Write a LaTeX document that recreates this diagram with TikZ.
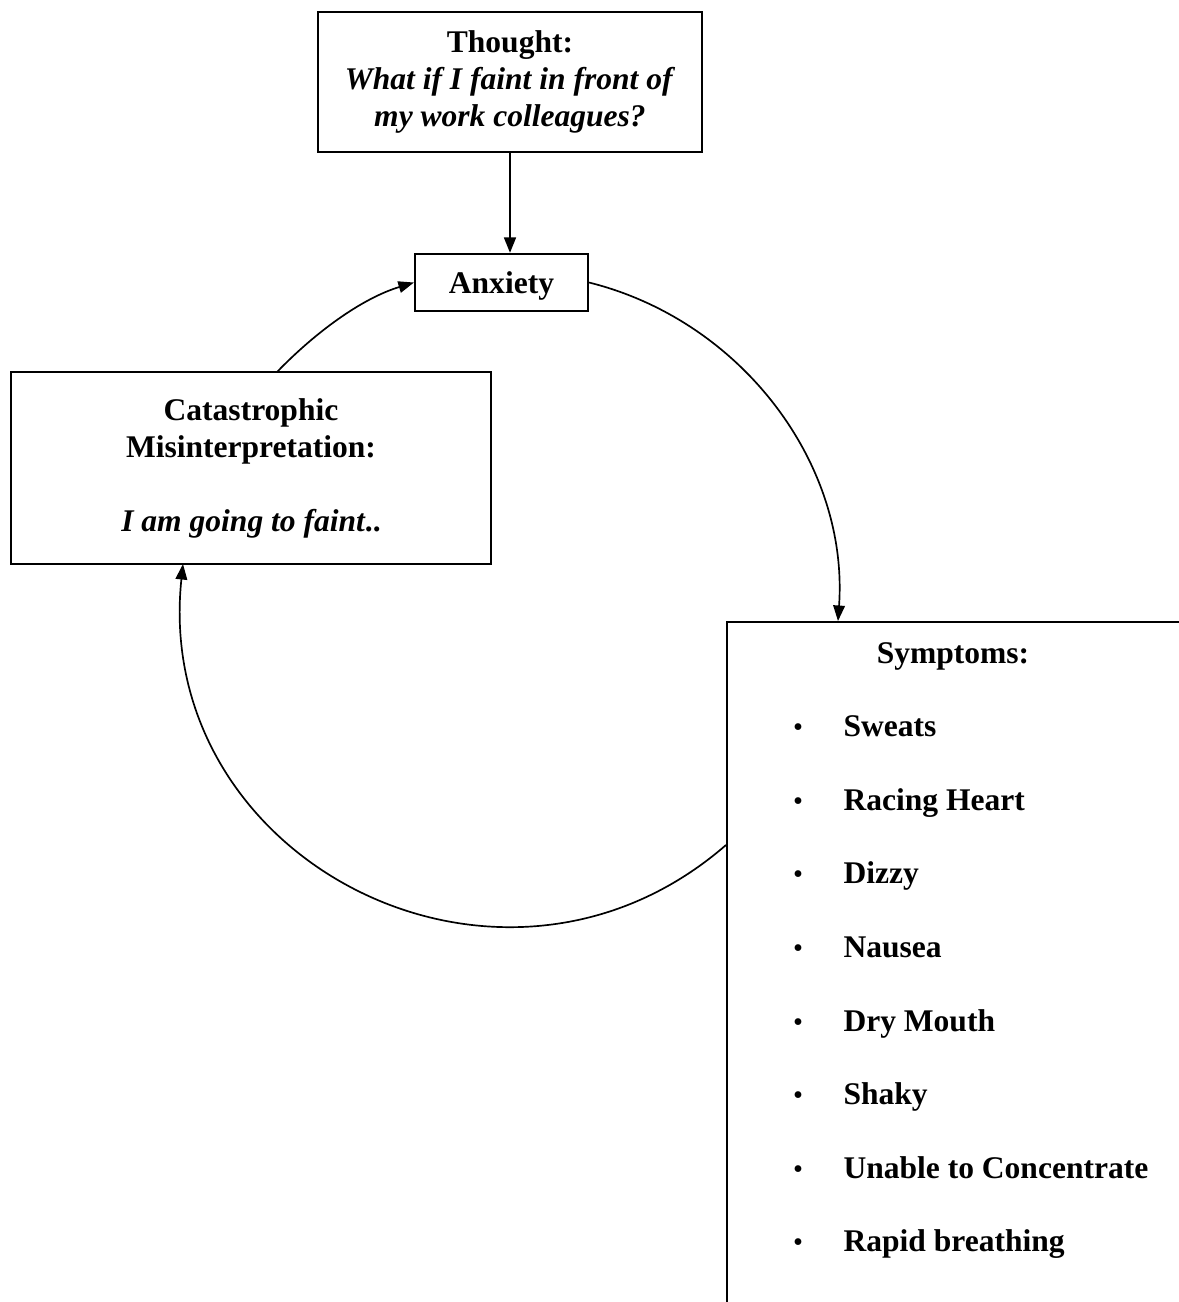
\documentclass[tikz,border=0pt]{standalone}
\usepackage{fontspec}
\setmainfont{Liberation Serif}
\usetikzlibrary{arrows.meta}

\begin{document}
\begin{tikzpicture}[x=0.0136cm, y=0.0136cm,
		box/.style={draw, line width=0.8pt, inner sep=0pt, align=center,
			font=\fontsize{12.2}{14.3}\selectfont\bfseries},
		item/.style={anchor=base west, inner sep=0pt,
			font=\fontsize{12.2}{14.3}\selectfont\bfseries},
		dot/.style={anchor=base, inner sep=0pt, font=\fontsize{11}{11}\selectfont},
		tip/.style={-{Triangle[length=6pt,width=4.5pt]}},
		cycle/.style={tip, line width=0.65pt}
		]
	\useasboundingbox (0,0) rectangle (1179,-1302);
	\clip (0,0) rectangle (1179,-1302);
	\node [box, minimum width=5.222cm, minimum height=1.904cm] (thought) at (510,-82)
		{Thought:\\ \textit{What if I faint in front of}\\ \textit{my work colleagues?}};
	\node [box, minimum width=2.353cm, minimum height=0.775cm,
		text height=11pt, text depth=2.6pt] (anx) at (501.5,-282.5) {Anxiety};
	\node [box, minimum width=6.528cm, minimum height=2.611cm] (cat) at (251,-468)
		{Catastrophic\\ Misinterpretation:\\[14.3pt] \textit{I am going to faint}..};
	\node [box, anchor=north west, minimum width=6.6cm, minimum height=9.8cm] (sym) at (726,-621) {};
	\node [item, anchor=base] (symtitle) at (953,-663) {Symptoms:};
	\foreach \txt [count=\i] in {Sweats, Racing Heart, Dizzy, Nausea, Dry Mouth, Shaky,
			Unable to Concentrate, Rapid breathing} {
		\node [item] (s\i) at (843,{-663-73.6*\i}) {\txt};
		\node [dot] (b\i) at (798,{-663-73.6*\i}) {\textbullet};
	}
	% where the cycle meets the boxes
	\coordinate (symin) at (838,-621);
	\coordinate (symout) at (726,-845);
	\coordinate (catin) at (183,-564);
	\coordinate (catout) at (277,-372);

	\draw [tip, line width=1pt] (thought.south) -- (thought.south |- anx.north);
	\draw [cycle] (anx.east) to[out=-14, in=86, looseness=0.96] (symin);
	\draw [cycle] (symout) to[out=-139, in=-96, looseness=1.25] (catin);
	\draw [cycle] (catout) to[out=46, in=-163, looseness=0.86] (anx.west);
\end{tikzpicture}
\end{document}
